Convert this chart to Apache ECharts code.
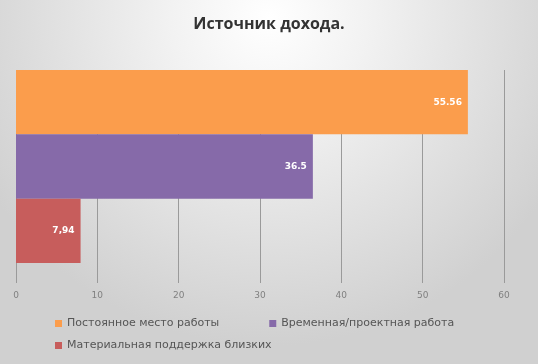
<!DOCTYPE html>
<html><head><meta charset="utf-8">
<script src="https://cdn.jsdelivr.net/npm/echarts@6/dist/echarts.min.js"></script>
<style>html,body{margin:0;padding:0;background:#d6d6d6;}#c{width:538px;height:364px;}</style>
</head><body><div id="c"></div>
<script>
const title = 'Источник дохода.';
const categories = [''];
const seriesNames = ['Постоянное место работы', 'Временная/проектная работа', 'Материальная поддержка близких'];
const seriesValues = [55.56, 36.5, 7.94];
const valueLabels = ['55.56', '36.5', '7,94'];
const colors = ['#fb9d4c', '#866aa9', '#c75d5c'];
const xTicks = [0, 10, 20, 30, 40, 50, 60];

const chart = echarts.init(document.getElementById('c'), null, {renderer: 'canvas'});
const series = seriesNames.map((n, i) => ({
  name: n, type: 'bar', data: [seriesValues[i]],
  barGap: '0%', barCategoryGap: '0%',
  itemStyle: {color: colors[i]},
  label: {show: true, position: 'insideRight', color: '#fff', fontSize: 9, fontWeight: 'bold',
    fontFamily: 'DejaVu Sans', distance: 6, formatter: () => valueLabels[i]}
}));
const legendText = {color: '#555', fontSize: 11, fontFamily: 'DejaVu Sans'};
chart.setOption({
  backgroundColor: {type: 'radial', x: 0.5, y: 0.05, r: 0.9,
    colorStops: [{offset: 0, color: '#ffffff'}, {offset: 0.3, color: '#f2f2f2'}, {offset: 1, color: '#d0d0d0'}]},
  title: {text: title, left: 'center', top: 11,
    textStyle: {fontSize: 16, fontWeight: 'bold', color: '#333', fontFamily: 'Open Sans'}},
  grid: {left: 16, right: 34, top: 70, bottom: 101, containLabel: false},
  xAxis: {type: 'value', min: 0, max: 60, interval: 10,
    axisLine: {show: false},
    axisTick: {show: true, length: 20, lineStyle: {color: '#9a9a9a'}},
    splitLine: {show: true, lineStyle: {color: '#9a9a9a'}},
    axisLabel: {color: '#808080', fontSize: 9, margin: 28, fontFamily: 'DejaVu Sans',
      formatter: v => xTicks.includes(v) ? String(v) : ''}},
  yAxis: {type: 'category', data: categories, inverse: true,
    axisLine: {show: false}, axisTick: {show: false}, axisLabel: {show: false}},
  legend: [
    {left: 50, top: 313, itemWidth: 7, itemHeight: 7, itemGap: 50, icon: 'rect',
      textStyle: legendText, data: seriesNames.slice(0, 2)},
    {left: 50, top: 335, itemWidth: 7, itemHeight: 7, icon: 'rect',
      textStyle: legendText, data: seriesNames.slice(2)}
  ],
  series: series
});
</script></body></html>
